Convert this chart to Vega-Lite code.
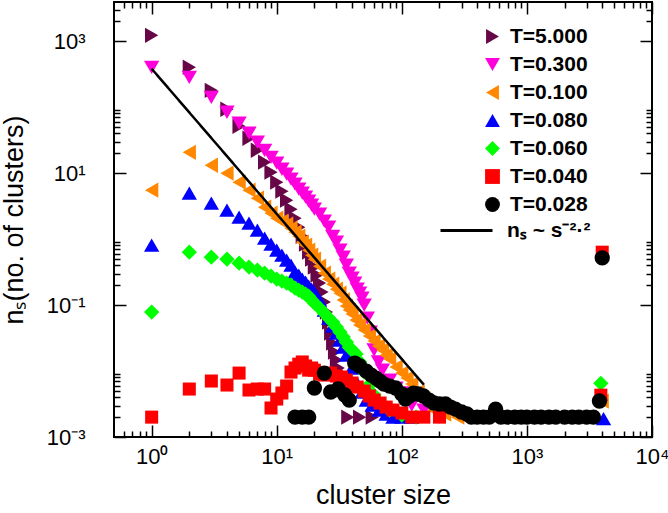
{
"$schema":"https://vega.github.io/schema/vega-lite/v6.json",
"width":538,"height":435,
"autosize":{"type":"none"},
"padding":{"left":114,"top":2,"right":16,"bottom":76},
"background":"white",
"config":{
 "font":"Liberation Sans",
 "view":{"stroke":"#000","strokeWidth":2},
 "axis":{"grid":false,"domain":false,"tickColor":"#000","tickWidth":1.5,"labelFont":"Liberation Sans","labelFontSize":22,"labelColor":"#000","titleFont":"Liberation Sans","titleFontSize":27,"titleFontWeight":"normal","titleColor":"#000","labelOverlap":false,"labelFlush":false},
 "legend":{"labelFont":"Liberation Sans","labelFontSize":21,"labelFontWeight":"bold","labelColor":"#000","padding":0}
},
"datasets":{
 "pts":[
  {"T":"T=5.000","s":1,"n":1220},{"T":"T=5.000","s":2,"n":400},{"T":"T=5.000","s":3,"n":179},{"T":"T=5.000","s":4,"n":92.4},{"T":"T=5.000","s":5,"n":51.1},{"T":"T=5.000","s":6,"n":33.6},{"T":"T=5.000","s":7,"n":22.1},{"T":"T=5.000","s":8,"n":14.6},{"T":"T=5.000","s":9,"n":10.3},{"T":"T=5.000","s":10,"n":7.26},{"T":"T=5.000","s":11,"n":5.3},{"T":"T=5.000","s":12,"n":3.88},{"T":"T=5.000","s":13,"n":2.83},{"T":"T=5.000","s":14,"n":2.07},{"T":"T=5.000","s":15,"n":1.51},{"T":"T=5.000","s":16,"n":1.1},{"T":"T=5.000","s":17,"n":0.836},{"T":"T=5.000","s":18,"n":0.632},{"T":"T=5.000","s":19,"n":0.495},{"T":"T=5.000","s":20,"n":0.375},{"T":"T=5.000","s":21,"n":0.284},{"T":"T=5.000","s":22,"n":0.215},{"T":"T=5.000","s":23,"n":0.157},{"T":"T=5.000","s":24,"n":0.111},{"T":"T=5.000","s":25,"n":0.078},{"T":"T=5.000","s":26,"n":0.0551},{"T":"T=5.000","s":27,"n":0.0376},{"T":"T=5.000","s":28,"n":0.0265},{"T":"T=5.000","s":29,"n":0.0194},{"T":"T=5.000","s":30,"n":0.0147},{"T":"T=5.000","s":31,"n":0.0111},{"T":"T=5.000","s":32,"n":0.0081},{"T":"T=5.000","s":34,"n":0.00515},{"T":"T=5.000","s":37,"n":0.002},{"T":"T=5.000","s":46,"n":0.002},{"T":"T=5.000","s":58,"n":0.002},
  {"T":"T=0.300","s":1,"n":400},{"T":"T=0.300","s":2,"n":282},{"T":"T=0.300","s":3,"n":140},{"T":"T=0.300","s":4,"n":83.3},{"T":"T=0.300","s":5,"n":56.8},{"T":"T=0.300","s":6,"n":40.1},{"T":"T=0.300","s":7,"n":29.3},{"T":"T=0.300","s":8,"n":22.1},{"T":"T=0.300","s":9,"n":17.3},{"T":"T=0.300","s":10,"n":14.1},{"T":"T=0.300","s":11,"n":11.4},{"T":"T=0.300","s":12,"n":9.59},{"T":"T=0.300","s":13,"n":8.06},{"T":"T=0.300","s":14,"n":6.77},{"T":"T=0.300","s":15,"n":5.68},{"T":"T=0.300","s":16,"n":4.94},{"T":"T=0.300","s":17,"n":4.3},{"T":"T=0.300","s":18,"n":3.74},{"T":"T=0.300","s":19,"n":3.25},{"T":"T=0.300","s":20,"n":2.83},{"T":"T=0.300","s":22,"n":2.38},{"T":"T=0.300","s":24,"n":1.86},{"T":"T=0.300","s":26,"n":1.51},{"T":"T=0.300","s":28,"n":1.1},{"T":"T=0.300","s":30,"n":0.896},{"T":"T=0.300","s":32,"n":0.678},{"T":"T=0.300","s":34,"n":0.531},{"T":"T=0.300","s":36,"n":0.402},{"T":"T=0.300","s":38,"n":0.304},{"T":"T=0.300","s":40,"n":0.256},{"T":"T=0.300","s":42,"n":0.215},{"T":"T=0.300","s":44,"n":0.174},{"T":"T=0.300","s":46,"n":0.151},{"T":"T=0.300","s":48,"n":0.127},{"T":"T=0.300","s":50,"n":0.0997},{"T":"T=0.300","s":53,"n":0.0633},{"T":"T=0.300","s":56,"n":0.0389},{"T":"T=0.300","s":60,"n":0.0208},{"T":"T=0.300","s":65,"n":0.0137},{"T":"T=0.300","s":70,"n":0.0103},{"T":"T=0.300","s":80,"n":0.0073},{"T":"T=0.300","s":90,"n":0.00552},{"T":"T=0.300","s":100,"n":0.00464},{"T":"T=0.300","s":120,"n":0.00305},{"T":"T=0.300","s":150,"n":0.00256},{"T":"T=0.300","s":200,"n":0.002},
  {"T":"T=0.100","s":1,"n":5.49},{"T":"T=0.100","s":2,"n":20.6},{"T":"T=0.100","s":3,"n":13.1},{"T":"T=0.100","s":4,"n":9.93},{"T":"T=0.100","s":5,"n":7.26},{"T":"T=0.100","s":6,"n":5.49},{"T":"T=0.100","s":7,"n":4.15},{"T":"T=0.100","s":8,"n":3.03},{"T":"T=0.100","s":9,"n":2.46},{"T":"T=0.100","s":10,"n":2.07},{"T":"T=0.100","s":11,"n":1.86},{"T":"T=0.100","s":12,"n":1.68},{"T":"T=0.100","s":13,"n":1.46},{"T":"T=0.100","s":14,"n":1.27},{"T":"T=0.100","s":15,"n":1.1},{"T":"T=0.100","s":16,"n":0.896},{"T":"T=0.100","s":17,"n":0.807},{"T":"T=0.100","s":18,"n":0.678},{"T":"T=0.100","s":19,"n":0.569},{"T":"T=0.100","s":20,"n":0.495},{"T":"T=0.100","s":22,"n":0.388},{"T":"T=0.100","s":24,"n":0.304},{"T":"T=0.100","s":26,"n":0.247},{"T":"T=0.100","s":28,"n":0.207},{"T":"T=0.100","s":30,"n":0.174},{"T":"T=0.100","s":32,"n":0.151},{"T":"T=0.100","s":34,"n":0.119},{"T":"T=0.100","s":36,"n":0.0963},{"T":"T=0.100","s":38,"n":0.0837},{"T":"T=0.100","s":40,"n":0.0728},{"T":"T=0.100","s":43,"n":0.0591},{"T":"T=0.100","s":46,"n":0.0496},{"T":"T=0.100","s":50,"n":0.0417},{"T":"T=0.100","s":55,"n":0.0338},{"T":"T=0.100","s":60,"n":0.0284},{"T":"T=0.100","s":65,"n":0.0239},{"T":"T=0.100","s":70,"n":0.0208},{"T":"T=0.100","s":75,"n":0.0174},{"T":"T=0.100","s":80,"n":0.0152},{"T":"T=0.100","s":90,"n":0.0115},{"T":"T=0.100","s":100,"n":0.0093},{"T":"T=0.100","s":110,"n":0.0078},{"T":"T=0.100","s":120,"n":0.00634},{"T":"T=0.100","s":135,"n":0.0048},{"T":"T=0.100","s":150,"n":0.00376},{"T":"T=0.100","s":180,"n":0.00256},{"T":"T=0.100","s":220,"n":0.00223},{"T":"T=0.100","s":280,"n":0.002},{"T":"T=0.100","s":4000,"n":0.0035},
  {"T":"T=0.080","s":1,"n":0.807},{"T":"T=0.080","s":2,"n":4.94},{"T":"T=0.080","s":3,"n":3.49},{"T":"T=0.080","s":4,"n":2.73},{"T":"T=0.080","s":5,"n":2.14},{"T":"T=0.080","s":6,"n":1.74},{"T":"T=0.080","s":7,"n":1.36},{"T":"T=0.080","s":8,"n":1.03},{"T":"T=0.080","s":9,"n":0.836},{"T":"T=0.080","s":10,"n":0.678},{"T":"T=0.080","s":11,"n":0.569},{"T":"T=0.080","s":12,"n":0.478},{"T":"T=0.080","s":13,"n":0.402},{"T":"T=0.080","s":14,"n":0.315},{"T":"T=0.080","s":15,"n":0.284},{"T":"T=0.080","s":16,"n":0.247},{"T":"T=0.080","s":17,"n":0.222},{"T":"T=0.080","s":18,"n":0.193},{"T":"T=0.080","s":19,"n":0.174},{"T":"T=0.080","s":20,"n":0.157},{"T":"T=0.080","s":22,"n":0.119},{"T":"T=0.080","s":24,"n":0.0837},{"T":"T=0.080","s":26,"n":0.0633},{"T":"T=0.080","s":28,"n":0.0479},{"T":"T=0.080","s":30,"n":0.0376},{"T":"T=0.080","s":32,"n":0.0294},{"T":"T=0.080","s":34,"n":0.023},{"T":"T=0.080","s":36,"n":0.0174},{"T":"T=0.080","s":40,"n":0.0111},{"T":"T=0.080","s":44,"n":0.00657},{"T":"T=0.080","s":48,"n":0.0048},{"T":"T=0.080","s":52,"n":0.00363},{"T":"T=0.080","s":58,"n":0.00305},{"T":"T=0.080","s":66,"n":0.00256},{"T":"T=0.080","s":75,"n":0.00223},{"T":"T=0.080","s":85,"n":0.002},{"T":"T=0.080","s":100,"n":0.002},{"T":"T=0.080","s":120,"n":0.002},{"T":"T=0.080","s":3850,"n":0.0045},{"T":"T=0.080","s":4100,"n":0.0019},
  {"T":"T=0.060","s":1,"n":0.078},{"T":"T=0.060","s":2,"n":0.632},{"T":"T=0.060","s":3,"n":0.531},{"T":"T=0.060","s":4,"n":0.495},{"T":"T=0.060","s":5,"n":0.431},{"T":"T=0.060","s":6,"n":0.375},{"T":"T=0.060","s":7,"n":0.338},{"T":"T=0.060","s":8,"n":0.304},{"T":"T=0.060","s":9,"n":0.274},{"T":"T=0.060","s":10,"n":0.247},{"T":"T=0.060","s":11,"n":0.23},{"T":"T=0.060","s":12,"n":0.215},{"T":"T=0.060","s":13,"n":0.2},{"T":"T=0.060","s":14,"n":0.18},{"T":"T=0.060","s":15,"n":0.168},{"T":"T=0.060","s":16,"n":0.157},{"T":"T=0.060","s":17,"n":0.146},{"T":"T=0.060","s":18,"n":0.136},{"T":"T=0.060","s":19,"n":0.119},{"T":"T=0.060","s":20,"n":0.107},{"T":"T=0.060","s":22,"n":0.0898},{"T":"T=0.060","s":24,"n":0.0754},{"T":"T=0.060","s":26,"n":0.0633},{"T":"T=0.060","s":28,"n":0.0551},{"T":"T=0.060","s":30,"n":0.0463},{"T":"T=0.060","s":32,"n":0.0389},{"T":"T=0.060","s":34,"n":0.0327},{"T":"T=0.060","s":36,"n":0.0274},{"T":"T=0.060","s":38,"n":0.023},{"T":"T=0.060","s":40,"n":0.0208},{"T":"T=0.060","s":43,"n":0.0181},{"T":"T=0.060","s":46,"n":0.0137},{"T":"T=0.060","s":50,"n":0.00964},{"T":"T=0.060","s":55,"n":0.00613},{"T":"T=0.060","s":60,"n":0.00432},{"T":"T=0.060","s":70,"n":0.00305},{"T":"T=0.060","s":80,"n":0.00256},{"T":"T=0.060","s":100,"n":0.00215},{"T":"T=0.060","s":130,"n":0.002},{"T":"T=0.060","s":3900,"n":0.0065},
  {"T":"T=0.040","s":1,"n":0.002},{"T":"T=0.040","s":2,"n":0.00533},{"T":"T=0.040","s":3,"n":0.00705},{"T":"T=0.040","s":4,"n":0.00613},{"T":"T=0.040","s":5,"n":0.0093},{"T":"T=0.040","s":6,"n":0.00515},{"T":"T=0.040","s":7,"n":0.00533},{"T":"T=0.040","s":8,"n":0.00533},{"T":"T=0.040","s":9,"n":0.00275},{"T":"T=0.040","s":10,"n":0.00376},{"T":"T=0.040","s":11,"n":0.00464},{"T":"T=0.040","s":12,"n":0.00592},{"T":"T=0.040","s":13,"n":0.00964},{"T":"T=0.040","s":14,"n":0.0111},{"T":"T=0.040","s":15,"n":0.0127},{"T":"T=0.040","s":16,"n":0.0137},{"T":"T=0.040","s":17,"n":0.0119},{"T":"T=0.040","s":18,"n":0.0103},{"T":"T=0.040","s":19,"n":0.0111},{"T":"T=0.040","s":20,"n":0.0103},{"T":"T=0.040","s":22,"n":0.00899},{"T":"T=0.040","s":24,"n":0.00868},{"T":"T=0.040","s":27,"n":0.0093},{"T":"T=0.040","s":30,"n":0.00839},{"T":"T=0.040","s":33,"n":0.0081},{"T":"T=0.040","s":36,"n":0.0073},{"T":"T=0.040","s":40,"n":0.00657},{"T":"T=0.040","s":44,"n":0.00571},{"T":"T=0.040","s":50,"n":0.00497},{"T":"T=0.040","s":55,"n":0.00418},{"T":"T=0.040","s":60,"n":0.00363},{"T":"T=0.040","s":67,"n":0.00327},{"T":"T=0.040","s":75,"n":0.00284},{"T":"T=0.040","s":85,"n":0.00256},{"T":"T=0.040","s":100,"n":0.00231},{"T":"T=0.040","s":120,"n":0.002},{"T":"T=0.040","s":150,"n":0.002},{"T":"T=0.040","s":200,"n":0.002},{"T":"T=0.040","s":3900,"n":0.0043},{"T":"T=0.040","s":4000,"n":0.631},
  {"T":"T=0.028","s":14,"n":0.002},{"T":"T=0.028","s":16,"n":0.002},{"T":"T=0.028","s":18,"n":0.002},{"T":"T=0.028","s":20,"n":0.00552},{"T":"T=0.028","s":24,"n":0.00931},{"T":"T=0.028","s":27,"n":0.0048},{"T":"T=0.028","s":31,"n":0.00533},{"T":"T=0.028","s":35,"n":0.00433},{"T":"T=0.028","s":38,"n":0.00363},{"T":"T=0.028","s":42,"n":0.0132},{"T":"T=0.028","s":46,"n":0.0119},{"T":"T=0.028","s":52,"n":0.00998},{"T":"T=0.028","s":57,"n":0.00868},{"T":"T=0.028","s":62,"n":0.00781},{"T":"T=0.028","s":67,"n":0.00703},{"T":"T=0.028","s":72,"n":0.00634},{"T":"T=0.028","s":80,"n":0.00591},{"T":"T=0.028","s":89,"n":0.00552},{"T":"T=0.028","s":100,"n":0.00448},{"T":"T=0.028","s":107,"n":0.00376},{"T":"T=0.028","s":115,"n":0.00418},{"T":"T=0.028","s":124,"n":0.00463},{"T":"T=0.028","s":135,"n":0.00448},{"T":"T=0.028","s":149,"n":0.00418},{"T":"T=0.028","s":165,"n":0.00363},{"T":"T=0.028","s":180,"n":0.00327},{"T":"T=0.028","s":200,"n":0.00316},{"T":"T=0.028","s":223,"n":0.00316},{"T":"T=0.028","s":245,"n":0.00284},{"T":"T=0.028","s":268,"n":0.00265},{"T":"T=0.028","s":300,"n":0.00239},{"T":"T=0.028","s":331,"n":0.00223},{"T":"T=0.028","s":360,"n":0.002},{"T":"T=0.028","s":400,"n":0.002},{"T":"T=0.028","s":450,"n":0.002},{"T":"T=0.028","s":500,"n":0.002},{"T":"T=0.028","s":562,"n":0.00265},{"T":"T=0.028","s":620,"n":0.002},{"T":"T=0.028","s":700,"n":0.002},{"T":"T=0.028","s":800,"n":0.002},{"T":"T=0.028","s":900,"n":0.002},{"T":"T=0.028","s":1000,"n":0.002},{"T":"T=0.028","s":1150,"n":0.002},{"T":"T=0.028","s":1300,"n":0.002},{"T":"T=0.028","s":1500,"n":0.002},{"T":"T=0.028","s":1700,"n":0.002},{"T":"T=0.028","s":2000,"n":0.002},{"T":"T=0.028","s":2300,"n":0.002},{"T":"T=0.028","s":2600,"n":0.002},{"T":"T=0.028","s":3000,"n":0.002},{"T":"T=0.028","s":3400,"n":0.002},{"T":"T=0.028","s":3800,"n":0.00351},{"T":"T=0.028","s":4000,"n":0.518}
 ],
 "fit":[{"s":1,"n":380,"fit":"nₛ ~ s⁻²·²"},{"s":150,"n":0.0062,"fit":"nₛ ~ s⁻²·²"}]
},
"layer":[
 {
  "data":{"name":"pts"},
  "mark":{"type":"point","filled":true,"opacity":1,"strokeWidth":0},
  "encoding":{
   "x":{"field":"s","type":"quantitative","scale":{"type":"log","domain":[0.5,10000],"nice":false},
        "axis":{"orient":"bottom","values":[1,10,100,1000,10000],"tickSize":-12,"labelPadding":21,"labelDx":-4,
                "labelExpr":"datum.value==1?'10⁰':datum.value==10?'10¹':datum.value==100?'10²':datum.value==1000?'10³':'10⁴'",
                "title":"cluster size","titlePadding":15}},
   "y":{"field":"n","type":"quantitative","scale":{"type":"log","domain":[0.001,3900],"nice":false},
        "axis":{"orient":"left","values":[0.001,0.1,10,1000],"tickSize":-12,"labelPadding":41,
                "labelExpr":"datum.value==1000?'10³':datum.value==10?'10¹':datum.value==0.1?'10⁻¹':'10⁻³'",
                "title":"nₛ(no. of clusters)","titlePadding":18}},
   "color":{"field":"T","type":"nominal",
            "scale":{"domain":["T=5.000","T=0.300","T=0.100","T=0.080","T=0.060","T=0.040","T=0.028"],
                     "range":["#670748","#ff00dd","#ff8800","#0000ff","#00ff00","#ff0000","#000000"]},
            "legend":{"title":null,"orient":"none","legendX":368,"legendY":24,"symbolSize":220,"symbolStrokeWidth":0,"labelOffset":7,"rowPadding":6}},
   "shape":{"field":"T","type":"nominal",
            "scale":{"domain":["T=5.000","T=0.300","T=0.100","T=0.080","T=0.060","T=0.040","T=0.028"],
                     "range":["triangle-right","triangle-down","triangle-left","triangle-up","diamond","square","circle"]},
            "legend":{"title":null,"orient":"none","legendX":368,"legendY":24,"symbolSize":220,"symbolStrokeWidth":0,"labelOffset":7,"rowPadding":6}},
   "size":{"condition":{"test":"datum.T=='T=0.040'","value":170},"value":235}
  }
 },
 {
  "data":{"name":"fit"},
  "mark":{"type":"line","color":"#000","strokeWidth":2.5},
  "encoding":{
   "x":{"field":"s","type":"quantitative","scale":{"type":"log","domain":[0.5,10000],"nice":false},
        "axis":{"orient":"bottom","values":[0.6,0.7,0.8,0.9,2,3,4,5,6,7,8,9,20,30,40,50,60,70,80,90,200,300,400,500,600,700,800,900,2000,3000,4000,5000,6000,7000,8000,9000],"tickSize":-6,"labels":false,"title":null}},
   "y":{"field":"n","type":"quantitative","scale":{"type":"log","domain":[0.001,3900],"nice":false},
        "axis":{"orient":"left","values":[0.002,0.003,0.004,0.005,0.006,0.007,0.008,0.009,0.2,0.3,0.4,0.5,0.6,0.7,0.8,0.9,20,30,40,50,60,70,80,90,2000,3000],"tickSize":-6,"labels":false,"title":null}},
   "strokeDash":{"field":"fit","type":"nominal",
        "legend":{"title":null,"orient":"none","legendX":325,"legendY":201,"symbolType":"stroke","symbolSize":2704,"symbolStrokeWidth":3,"symbolStrokeColor":"#000","labelOffset":13}}
  }
 },
 {
  "data":{"name":"fit"},
  "mark":{"type":"line","opacity":0},
  "encoding":{
   "x":{"field":"s","type":"quantitative","scale":{"type":"log","domain":[0.5,10000],"nice":false},
        "axis":{"orient":"top","values":[1,10,100,1000,10000],"tickSize":-12,"labels":false,"title":null}},
   "y":{"field":"n","type":"quantitative","scale":{"type":"log","domain":[0.001,3900],"nice":false},
        "axis":{"orient":"right","values":[0.001,0.1,10,1000],"tickSize":-12,"labels":false,"title":null}}
  }
 },
 {
  "data":{"name":"fit"},
  "mark":{"type":"line","opacity":0},
  "encoding":{
   "x":{"field":"s","type":"quantitative","scale":{"type":"log","domain":[0.5,10000],"nice":false},
        "axis":{"orient":"top","values":[0.6,0.7,0.8,0.9,2,3,4,5,6,7,8,9,20,30,40,50,60,70,80,90,200,300,400,500,600,700,800,900,2000,3000,4000,5000,6000,7000,8000,9000],"tickSize":-6,"labels":false,"title":null}},
   "y":{"field":"n","type":"quantitative","scale":{"type":"log","domain":[0.001,3900],"nice":false},
        "axis":{"orient":"right","values":[0.002,0.003,0.004,0.005,0.006,0.007,0.008,0.009,0.2,0.3,0.4,0.5,0.6,0.7,0.8,0.9,20,30,40,50,60,70,80,90,2000,3000],"tickSize":-6,"labels":false,"title":null}}
  }
 }
],
"resolve":{"axis":{"x":"independent","y":"independent"}}
}
